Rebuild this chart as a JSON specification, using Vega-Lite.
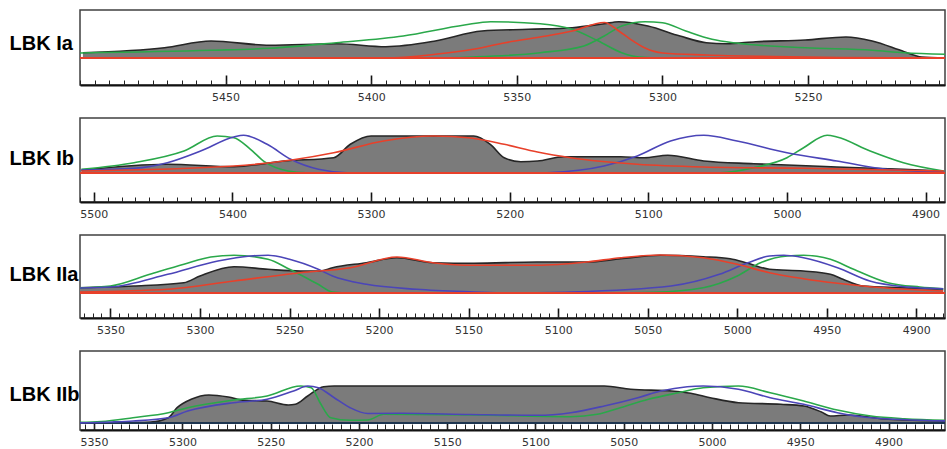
{
  "$schema": "https://vega.github.io/schema/vega-lite/v6.json",
  "padding": {"left": 8, "top": 9, "right": 3, "bottom": 0},
  "background": "white",
  "config": {
    "view": {"stroke": "#404040", "strokeWidth": 1.5},
    "axis": {"labelFont": "DejaVu Sans", "labelFontSize": 11, "labelColor": "#333333", "grid": false, "titleFont": "Liberation Sans", "titleFontSize": 20, "titleFontWeight": "bold", "titleColor": "#000000"},
    "line": {"interpolate": "monotone", "strokeWidth": 1.6},
    "area": {"interpolate": "monotone"}
  },
  "datasets": {
    "p1": [
      {"s": "sum", "x": 5499, "y": 5.3}, {"s": "sum", "x": 5471, "y": 10.3}, {"s": "sum", "x": 5455, "y": 17}, {"s": "sum", "x": 5435, "y": 12.7}, {"s": "sum", "x": 5412, "y": 14.3}, {"s": "sum", "x": 5395, "y": 11.3}, {"s": "sum", "x": 5378, "y": 17}, {"s": "sum", "x": 5362, "y": 27}, {"s": "sum", "x": 5346, "y": 28.7}, {"s": "sum", "x": 5331, "y": 30.3}, {"s": "sum", "x": 5320, "y": 34.3}, {"s": "sum", "x": 5315, "y": 36.3}, {"s": "sum", "x": 5305, "y": 32}, {"s": "sum", "x": 5294, "y": 22}, {"s": "sum", "x": 5285, "y": 15.3}, {"s": "sum", "x": 5278, "y": 14.3}, {"s": "sum", "x": 5268, "y": 16.3}, {"s": "sum", "x": 5251, "y": 18}, {"s": "sum", "x": 5237, "y": 21}, {"s": "sum", "x": 5228, "y": 17}, {"s": "sum", "x": 5217, "y": 6.3}, {"s": "sum", "x": 5211, "y": 1}, {"s": "sum", "x": 5203, "y": 0},
      {"s": "g1", "x": 5500, "y": 5}, {"s": "g1", "x": 5455, "y": 7.7}, {"s": "g1", "x": 5435, "y": 9.7}, {"s": "g1", "x": 5412, "y": 15.3}, {"s": "g1", "x": 5389, "y": 22}, {"s": "g1", "x": 5368, "y": 33}, {"s": "g1", "x": 5359, "y": 36.3}, {"s": "g1", "x": 5342, "y": 34.3}, {"s": "g1", "x": 5331, "y": 28.7}, {"s": "g1", "x": 5322, "y": 17}, {"s": "g1", "x": 5314, "y": 5.3}, {"s": "g1", "x": 5308, "y": 1}, {"s": "g1", "x": 5300, "y": 0}, {"s": "g1", "x": 5203, "y": 0},
      {"s": "g2", "x": 5500, "y": 0}, {"s": "g2", "x": 5380, "y": 0}, {"s": "g2", "x": 5365, "y": 1}, {"s": "g2", "x": 5342, "y": 5.3}, {"s": "g2", "x": 5327, "y": 12}, {"s": "g2", "x": 5320, "y": 22}, {"s": "g2", "x": 5314, "y": 32}, {"s": "g2", "x": 5306, "y": 36.3}, {"s": "g2", "x": 5300, "y": 35.3}, {"s": "g2", "x": 5292, "y": 27}, {"s": "g2", "x": 5283, "y": 18.7}, {"s": "g2", "x": 5274, "y": 14.7}, {"s": "g2", "x": 5251, "y": 10.3}, {"s": "g2", "x": 5228, "y": 7.7}, {"s": "g2", "x": 5217, "y": 5.3}, {"s": "g2", "x": 5203, "y": 3.7},
      {"s": "r", "x": 5500, "y": 0}, {"s": "r", "x": 5395, "y": 0}, {"s": "r", "x": 5378, "y": 3.7}, {"s": "r", "x": 5365, "y": 8.7}, {"s": "r", "x": 5354, "y": 15.3}, {"s": "r", "x": 5342, "y": 21}, {"s": "r", "x": 5331, "y": 27}, {"s": "r", "x": 5320, "y": 35.5}, {"s": "r", "x": 5315, "y": 27}, {"s": "r", "x": 5311, "y": 18.7}, {"s": "r", "x": 5306, "y": 10}, {"s": "r", "x": 5300, "y": 5}, {"s": "r", "x": 5285, "y": 3}, {"s": "r", "x": 5262, "y": 1.5}, {"s": "r", "x": 5239, "y": 0.5}, {"s": "r", "x": 5203, "y": 0}
    ],
    "p2": [
      {"s": "sum", "x": 5509, "y": 2.7}, {"s": "sum", "x": 5447, "y": 8.7}, {"s": "sum", "x": 5399, "y": 6.3}, {"s": "sum", "x": 5363, "y": 12}, {"s": "sum", "x": 5327, "y": 15.3}, {"s": "sum", "x": 5315, "y": 28.7}, {"s": "sum", "x": 5300, "y": 37}, {"s": "sum", "x": 5226, "y": 37}, {"s": "sum", "x": 5214, "y": 28.7}, {"s": "sum", "x": 5204, "y": 15.3}, {"s": "sum", "x": 5192, "y": 11.3}, {"s": "sum", "x": 5180, "y": 12}, {"s": "sum", "x": 5161, "y": 16.3}, {"s": "sum", "x": 5120, "y": 16.3}, {"s": "sum", "x": 5103, "y": 15.3}, {"s": "sum", "x": 5086, "y": 17.7}, {"s": "sum", "x": 5060, "y": 12}, {"s": "sum", "x": 5024, "y": 9.3}, {"s": "sum", "x": 4964, "y": 6}, {"s": "sum", "x": 4916, "y": 3.7}, {"s": "sum", "x": 4887, "y": 2},
      {"s": "g1", "x": 5509, "y": 3.7}, {"s": "g1", "x": 5471, "y": 10.3}, {"s": "g1", "x": 5435, "y": 22}, {"s": "g1", "x": 5411, "y": 37}, {"s": "g1", "x": 5399, "y": 35.3}, {"s": "g1", "x": 5387, "y": 23.7}, {"s": "g1", "x": 5377, "y": 11.3}, {"s": "g1", "x": 5360, "y": 2}, {"s": "g1", "x": 5345, "y": 0},
      {"s": "g2", "x": 5060, "y": 0}, {"s": "g2", "x": 5048, "y": 0.3}, {"s": "g2", "x": 5024, "y": 5.3}, {"s": "g2", "x": 5000, "y": 15.3}, {"s": "g2", "x": 4988, "y": 25.3}, {"s": "g2", "x": 4971, "y": 37.7}, {"s": "g2", "x": 4964, "y": 36}, {"s": "g2", "x": 4940, "y": 22}, {"s": "g2", "x": 4916, "y": 10.3}, {"s": "g2", "x": 4887, "y": 2},
      {"s": "b1", "x": 5509, "y": 3}, {"s": "b1", "x": 5471, "y": 4.7}, {"s": "b1", "x": 5447, "y": 10.3}, {"s": "b1", "x": 5423, "y": 22}, {"s": "b1", "x": 5399, "y": 36}, {"s": "b1", "x": 5392, "y": 37.7}, {"s": "b1", "x": 5375, "y": 28.7}, {"s": "b1", "x": 5358, "y": 13.7}, {"s": "b1", "x": 5338, "y": 3.7}, {"s": "b1", "x": 5315, "y": 0}, {"s": "b1", "x": 5300, "y": 0},
      {"s": "b2", "x": 5180, "y": 0}, {"s": "b2", "x": 5173, "y": 0.3}, {"s": "b2", "x": 5132, "y": 7}, {"s": "b2", "x": 5108, "y": 17}, {"s": "b2", "x": 5084, "y": 32}, {"s": "b2", "x": 5060, "y": 37.7}, {"s": "b2", "x": 5036, "y": 32}, {"s": "b2", "x": 5000, "y": 20.3}, {"s": "b2", "x": 4964, "y": 12}, {"s": "b2", "x": 4928, "y": 3.7}, {"s": "b2", "x": 4887, "y": 1},
      {"s": "r", "x": 5509, "y": 2}, {"s": "r", "x": 5399, "y": 7}, {"s": "r", "x": 5327, "y": 20.3}, {"s": "r", "x": 5291, "y": 32}, {"s": "r", "x": 5255, "y": 37}, {"s": "r", "x": 5228, "y": 35}, {"s": "r", "x": 5204, "y": 28.7}, {"s": "r", "x": 5180, "y": 21}, {"s": "r", "x": 5156, "y": 15.3}, {"s": "r", "x": 5108, "y": 8.7}, {"s": "r", "x": 5060, "y": 6}, {"s": "r", "x": 4988, "y": 4.7}, {"s": "r", "x": 4887, "y": 2}
    ],
    "p3": [
      {"s": "sum", "x": 5367, "y": 5.3}, {"s": "sum", "x": 5337, "y": 7}, {"s": "sum", "x": 5309, "y": 10.3}, {"s": "sum", "x": 5300, "y": 17}, {"s": "sum", "x": 5281, "y": 26.3}, {"s": "sum", "x": 5262, "y": 23.7}, {"s": "sum", "x": 5244, "y": 22}, {"s": "sum", "x": 5233, "y": 22}, {"s": "sum", "x": 5226, "y": 25.3}, {"s": "sum", "x": 5207, "y": 30.3}, {"s": "sum", "x": 5190, "y": 35.3}, {"s": "sum", "x": 5170, "y": 30.3}, {"s": "sum", "x": 5147, "y": 29.7}, {"s": "sum", "x": 5112, "y": 31}, {"s": "sum", "x": 5084, "y": 31}, {"s": "sum", "x": 5065, "y": 34.3}, {"s": "sum", "x": 5043, "y": 37.7}, {"s": "sum", "x": 5019, "y": 36.3}, {"s": "sum", "x": 5004, "y": 34.3}, {"s": "sum", "x": 4994, "y": 29.7}, {"s": "sum", "x": 4982, "y": 23.7}, {"s": "sum", "x": 4963, "y": 22}, {"s": "sum", "x": 4948, "y": 18.7}, {"s": "sum", "x": 4941, "y": 13.7}, {"s": "sum", "x": 4930, "y": 7}, {"s": "sum", "x": 4907, "y": 5.3}, {"s": "sum", "x": 4885, "y": 3.7},
      {"s": "g1", "x": 5367, "y": 5.3}, {"s": "g1", "x": 5350, "y": 7}, {"s": "g1", "x": 5328, "y": 18.7}, {"s": "g1", "x": 5309, "y": 28.7}, {"s": "g1", "x": 5294, "y": 36}, {"s": "g1", "x": 5281, "y": 37.7}, {"s": "g1", "x": 5262, "y": 33.7}, {"s": "g1", "x": 5250, "y": 23.7}, {"s": "g1", "x": 5234, "y": 8.7}, {"s": "g1", "x": 5226, "y": 1}, {"s": "g1", "x": 5216, "y": 0}, {"s": "g1", "x": 5150, "y": 0},
      {"s": "g2", "x": 5080, "y": 0}, {"s": "g2", "x": 5047, "y": 0.7}, {"s": "g2", "x": 5019, "y": 5.3}, {"s": "g2", "x": 5000, "y": 17}, {"s": "g2", "x": 4987, "y": 30.3}, {"s": "g2", "x": 4972, "y": 37}, {"s": "g2", "x": 4963, "y": 37.7}, {"s": "g2", "x": 4948, "y": 33.7}, {"s": "g2", "x": 4935, "y": 23.7}, {"s": "g2", "x": 4916, "y": 10.3}, {"s": "g2", "x": 4898, "y": 6}, {"s": "g2", "x": 4885, "y": 4.3},
      {"s": "b1", "x": 5367, "y": 5}, {"s": "b1", "x": 5350, "y": 6}, {"s": "b1", "x": 5318, "y": 18.7}, {"s": "b1", "x": 5290, "y": 32}, {"s": "b1", "x": 5272, "y": 37}, {"s": "b1", "x": 5262, "y": 37.7}, {"s": "b1", "x": 5250, "y": 33.7}, {"s": "b1", "x": 5234, "y": 23.7}, {"s": "b1", "x": 5226, "y": 17}, {"s": "b1", "x": 5207, "y": 8.7}, {"s": "b1", "x": 5179, "y": 3.7}, {"s": "b1", "x": 5147, "y": 1}, {"s": "b1", "x": 5130, "y": 0},
      {"s": "b2", "x": 5130, "y": 0}, {"s": "b2", "x": 5093, "y": 1}, {"s": "b2", "x": 5037, "y": 7}, {"s": "b2", "x": 5010, "y": 18.7}, {"s": "b2", "x": 4994, "y": 30.3}, {"s": "b2", "x": 4982, "y": 37}, {"s": "b2", "x": 4974, "y": 37.7}, {"s": "b2", "x": 4963, "y": 35.3}, {"s": "b2", "x": 4944, "y": 25.3}, {"s": "b2", "x": 4926, "y": 12}, {"s": "b2", "x": 4907, "y": 6.3}, {"s": "b2", "x": 4885, "y": 4.3},
      {"s": "r", "x": 5367, "y": 1}, {"s": "r", "x": 5318, "y": 3.7}, {"s": "r", "x": 5281, "y": 12}, {"s": "r", "x": 5244, "y": 20.3}, {"s": "r", "x": 5216, "y": 25.3}, {"s": "r", "x": 5190, "y": 36}, {"s": "r", "x": 5170, "y": 30.3}, {"s": "r", "x": 5147, "y": 27.7}, {"s": "r", "x": 5112, "y": 27.7}, {"s": "r", "x": 5084, "y": 31}, {"s": "r", "x": 5065, "y": 35.3}, {"s": "r", "x": 5043, "y": 38}, {"s": "r", "x": 5019, "y": 35.3}, {"s": "r", "x": 5000, "y": 28.7}, {"s": "r", "x": 4982, "y": 20.3}, {"s": "r", "x": 4963, "y": 14.3}, {"s": "r", "x": 4944, "y": 9.7}, {"s": "r", "x": 4926, "y": 6.3}, {"s": "r", "x": 4885, "y": 2}
    ],
    "p4": [
      {"s": "sum", "x": 5360, "y": 0}, {"s": "sum", "x": 5318, "y": 1}, {"s": "sum", "x": 5308, "y": 5.3}, {"s": "sum", "x": 5303, "y": 15.3}, {"s": "sum", "x": 5295, "y": 23.7}, {"s": "sum", "x": 5285, "y": 28}, {"s": "sum", "x": 5274, "y": 26}, {"s": "sum", "x": 5265, "y": 22.7}, {"s": "sum", "x": 5252, "y": 22}, {"s": "sum", "x": 5240, "y": 18}, {"s": "sum", "x": 5236, "y": 18.7}, {"s": "sum", "x": 5229, "y": 27}, {"s": "sum", "x": 5220, "y": 36.3}, {"s": "sum", "x": 5214, "y": 37}, {"s": "sum", "x": 5135, "y": 37}, {"s": "sum", "x": 5061, "y": 37}, {"s": "sum", "x": 5046, "y": 33.7}, {"s": "sum", "x": 5023, "y": 32}, {"s": "sum", "x": 5012, "y": 29.7}, {"s": "sum", "x": 5001, "y": 25.3}, {"s": "sum", "x": 4985, "y": 20.3}, {"s": "sum", "x": 4961, "y": 18.7}, {"s": "sum", "x": 4948, "y": 17}, {"s": "sum", "x": 4938, "y": 11}, {"s": "sum", "x": 4933, "y": 7}, {"s": "sum", "x": 4923, "y": 8}, {"s": "sum", "x": 4900, "y": 3.7}, {"s": "sum", "x": 4866, "y": 2},
      {"s": "g1", "x": 5360, "y": 0.5}, {"s": "g1", "x": 5346, "y": 1.5}, {"s": "g1", "x": 5328, "y": 5.3}, {"s": "g1", "x": 5308, "y": 10.3}, {"s": "g1", "x": 5297, "y": 15.3}, {"s": "g1", "x": 5271, "y": 23}, {"s": "g1", "x": 5252, "y": 27}, {"s": "g1", "x": 5233, "y": 37}, {"s": "g1", "x": 5227, "y": 35.3}, {"s": "g1", "x": 5222, "y": 20.3}, {"s": "g1", "x": 5216, "y": 5.3}, {"s": "g1", "x": 5205, "y": 2.7}, {"s": "g1", "x": 5195, "y": 3}, {"s": "g1", "x": 5186, "y": 8.7}, {"s": "g1", "x": 5135, "y": 8}, {"s": "g1", "x": 5080, "y": 6.3}, {"s": "g1", "x": 5065, "y": 8.7}, {"s": "g1", "x": 5052, "y": 15.3}, {"s": "g1", "x": 5036, "y": 23.7}, {"s": "g1", "x": 5019, "y": 30.3}, {"s": "g1", "x": 5005, "y": 35.3}, {"s": "g1", "x": 4985, "y": 37}, {"s": "g1", "x": 4967, "y": 30.3}, {"s": "g1", "x": 4948, "y": 22}, {"s": "g1", "x": 4929, "y": 13}, {"s": "g1", "x": 4910, "y": 7}, {"s": "g1", "x": 4891, "y": 4.3}, {"s": "g1", "x": 4866, "y": 2.7},
      {"s": "b1", "x": 5360, "y": 0}, {"s": "b1", "x": 5340, "y": 1}, {"s": "b1", "x": 5328, "y": 2}, {"s": "b1", "x": 5308, "y": 5.3}, {"s": "b1", "x": 5297, "y": 12}, {"s": "b1", "x": 5271, "y": 20.3}, {"s": "b1", "x": 5252, "y": 23.7}, {"s": "b1", "x": 5237, "y": 32}, {"s": "b1", "x": 5229, "y": 37}, {"s": "b1", "x": 5223, "y": 35.3}, {"s": "b1", "x": 5214, "y": 25.3}, {"s": "b1", "x": 5205, "y": 15.3}, {"s": "b1", "x": 5195, "y": 9.5}, {"s": "b1", "x": 5176, "y": 9.7}, {"s": "b1", "x": 5137, "y": 8.5}, {"s": "b1", "x": 5099, "y": 7.7}, {"s": "b1", "x": 5080, "y": 10.3}, {"s": "b1", "x": 5061, "y": 17}, {"s": "b1", "x": 5042, "y": 25.3}, {"s": "b1", "x": 5029, "y": 32}, {"s": "b1", "x": 5014, "y": 36.3}, {"s": "b1", "x": 5005, "y": 37}, {"s": "b1", "x": 4985, "y": 33.7}, {"s": "b1", "x": 4967, "y": 25.3}, {"s": "b1", "x": 4948, "y": 18.7}, {"s": "b1", "x": 4929, "y": 10.3}, {"s": "b1", "x": 4910, "y": 5.3}, {"s": "b1", "x": 4866, "y": 2}
    ]
  },
  "vconcat": [
    {
      "width": 865, "height": 75,
      "data": {"name": "p1"},
      "resolve": {"axis": {"x": "independent"}},
      "layer": [
        {"transform": [{"filter": "datum.s == 'sum'"}], "mark": {"type": "area", "color": "#7b7b7b", "clip": true},
         "encoding": {
           "x": {"field": "x", "type": "quantitative", "scale": {"domain": [5500, 5203], "nice": false, "zero": false},
                 "axis": {"orient": "bottom", "title": "LBK Ia", "titleX": -71, "titleY": -42, "titleAngle": 0, "titleAlign": "left", "titleBaseline": "middle", "format": "d", "values": [5450, 5400, 5350, 5300, 5250], "tickSize": -10, "tickWidth": 1.6, "tickColor": "#111", "labelPadding": 16, "domainColor": "#111", "domainWidth": 2, "labelOverlap": false}},
           "y": {"field": "y", "type": "quantitative", "scale": {"domain": [-27, 48], "nice": false, "zero": false},
                 "axis": {"title": null, "domain": false, "ticks": false, "labels": false}}
         }},
        {"transform": [{"filter": "datum.s == 'sum'"}], "mark": {"type": "line", "color": "#262626", "clip": true},
         "encoding": {
           "x": {"field": "x", "type": "quantitative", "axis": {"orient": "bottom", "title": null, "tickCount": 60, "labels": false, "domain": false, "tickSize": -5, "tickWidth": 1, "tickColor": "#222"}},
           "y": {"field": "y", "type": "quantitative", "axis": null}
         }},
        {"transform": [{"filter": "datum.s != 'sum'"}], "mark": {"type": "line", "clip": true},
         "encoding": {
           "x": {"field": "x", "type": "quantitative", "axis": null},
           "y": {"field": "y", "type": "quantitative", "axis": null},
           "detail": {"field": "s"},
           "color": {"field": "s", "type": "nominal", "legend": null, "scale": {"domain": ["g1", "g2", "b1", "b2", "r"], "range": ["#2aa84a", "#2aa84a", "#4b45b8", "#4b45b8", "#e8402a"]}}
         }},
        {"mark": {"type": "rule", "color": "#e8402a", "strokeWidth": 2.2}, "encoding": {"y": {"datum": 0}}}
      ]
    },
    {
      "width": 865, "height": 84,
      "data": {"name": "p2"},
      "resolve": {"axis": {"x": "independent"}},
      "layer": [
        {"transform": [{"filter": "datum.s == 'sum'"}], "mark": {"type": "area", "color": "#7b7b7b", "clip": true},
         "encoding": {
           "x": {"field": "x", "type": "quantitative", "scale": {"domain": [5510, 4886], "nice": false, "zero": false},
                 "axis": {"orient": "bottom", "title": "LBK Ib", "titleX": -71, "titleY": -44, "titleAngle": 0, "titleAlign": "left", "titleBaseline": "middle", "format": "d", "values": [5500, 5400, 5300, 5200, 5100, 5000, 4900], "tickSize": -10, "tickWidth": 1.6, "tickColor": "#111", "labelPadding": 16, "domainColor": "#111", "domainWidth": 2, "labelOverlap": false}},
           "y": {"field": "y", "type": "quantitative", "scale": {"domain": [-29, 55], "nice": false, "zero": false},
                 "axis": {"title": null, "domain": false, "ticks": false, "labels": false}}
         }},
        {"transform": [{"filter": "datum.s == 'sum'"}], "mark": {"type": "line", "color": "#262626", "clip": true},
         "encoding": {
           "x": {"field": "x", "type": "quantitative", "axis": {"orient": "bottom", "title": null, "tickCount": 62, "labels": false, "domain": false, "tickSize": -5, "tickWidth": 1, "tickColor": "#222"}},
           "y": {"field": "y", "type": "quantitative", "axis": null}
         }},
        {"transform": [{"filter": "datum.s != 'sum'"}], "mark": {"type": "line", "clip": true},
         "encoding": {
           "x": {"field": "x", "type": "quantitative", "axis": null},
           "y": {"field": "y", "type": "quantitative", "axis": null},
           "detail": {"field": "s"},
           "color": {"field": "s", "type": "nominal", "legend": null, "scale": {"domain": ["g1", "g2", "b1", "b2", "r"], "range": ["#2aa84a", "#2aa84a", "#4b45b8", "#4b45b8", "#e8402a"]}}
         }},
        {"mark": {"type": "rule", "color": "#e8402a", "strokeWidth": 2.2}, "encoding": {"y": {"datum": 0}}}
      ]
    },
    {
      "width": 865, "height": 83,
      "data": {"name": "p3"},
      "resolve": {"axis": {"x": "independent"}},
      "layer": [
        {"transform": [{"filter": "datum.s == 'sum'"}], "mark": {"type": "area", "color": "#7b7b7b", "clip": true},
         "encoding": {
           "x": {"field": "x", "type": "quantitative", "scale": {"domain": [5367, 4884], "nice": false, "zero": false},
                 "axis": {"orient": "bottom", "title": "LBK IIa", "titleX": -71, "titleY": -44, "titleAngle": 0, "titleAlign": "left", "titleBaseline": "middle", "format": "d", "values": [5350, 5300, 5250, 5200, 5150, 5100, 5050, 5000, 4950, 4900], "tickSize": -10, "tickWidth": 1.6, "tickColor": "#111", "labelPadding": 16, "domainColor": "#111", "domainWidth": 2, "labelOverlap": false}},
           "y": {"field": "y", "type": "quantitative", "scale": {"domain": [-25, 58], "nice": false, "zero": false},
                 "axis": {"title": null, "domain": false, "ticks": false, "labels": false}}
         }},
        {"transform": [{"filter": "datum.s == 'sum'"}], "mark": {"type": "line", "color": "#262626", "clip": true},
         "encoding": {
           "x": {"field": "x", "type": "quantitative", "axis": {"orient": "bottom", "title": null, "tickCount": 97, "labels": false, "domain": false, "tickSize": -5, "tickWidth": 1, "tickColor": "#222"}},
           "y": {"field": "y", "type": "quantitative", "axis": null}
         }},
        {"transform": [{"filter": "datum.s != 'sum'"}], "mark": {"type": "line", "clip": true},
         "encoding": {
           "x": {"field": "x", "type": "quantitative", "axis": null},
           "y": {"field": "y", "type": "quantitative", "axis": null},
           "detail": {"field": "s"},
           "color": {"field": "s", "type": "nominal", "legend": null, "scale": {"domain": ["g1", "g2", "b1", "b2", "r"], "range": ["#2aa84a", "#2aa84a", "#4b45b8", "#4b45b8", "#e8402a"]}}
         }},
        {"mark": {"type": "rule", "color": "#e8402a", "strokeWidth": 2.2}, "encoding": {"y": {"datum": 0}}}
      ]
    },
    {
      "width": 865, "height": 79,
      "data": {"name": "p4"},
      "resolve": {"axis": {"x": "independent"}},
      "layer": [
        {"transform": [{"filter": "datum.s == 'sum'"}], "mark": {"type": "area", "color": "#7b7b7b", "clip": true},
         "encoding": {
           "x": {"field": "x", "type": "quantitative", "scale": {"domain": [5358, 4868], "nice": false, "zero": false},
                 "axis": {"orient": "bottom", "title": "LBK IIb", "titleX": -71, "titleY": -36, "titleAngle": 0, "titleAlign": "left", "titleBaseline": "middle", "format": "d", "values": [5350, 5300, 5250, 5200, 5150, 5100, 5050, 5000, 4950, 4900], "tickSize": -8, "tickWidth": 1.6, "tickColor": "#111", "labelPadding": 14, "domainColor": "#111", "domainWidth": 2, "labelOverlap": false}},
           "y": {"field": "y", "type": "quantitative", "scale": {"domain": [-7, 72], "nice": false, "zero": false},
                 "axis": {"title": null, "domain": false, "ticks": false, "labels": false}}
         }},
        {"transform": [{"filter": "datum.s == 'sum'"}], "mark": {"type": "line", "color": "#262626", "clip": true},
         "encoding": {
           "x": {"field": "x", "type": "quantitative", "axis": {"orient": "bottom", "title": null, "tickCount": 98, "labels": false, "domain": false, "tickSize": -6, "tickWidth": 1, "tickColor": "#222"}},
           "y": {"field": "y", "type": "quantitative", "axis": null}
         }},
        {"mark": {"type": "rule", "color": "#1d3550", "strokeWidth": 2.2}, "encoding": {"y": {"datum": 0}}},
        {"transform": [{"filter": "datum.s != 'sum'"}], "mark": {"type": "line", "clip": true},
         "encoding": {
           "x": {"field": "x", "type": "quantitative", "axis": null},
           "y": {"field": "y", "type": "quantitative", "axis": null},
           "detail": {"field": "s"},
           "color": {"field": "s", "type": "nominal", "legend": null, "scale": {"domain": ["g1", "g2", "b1", "b2", "r"], "range": ["#2aa84a", "#2aa84a", "#4b45b8", "#4b45b8", "#e8402a"]}}
         }}
      ]
    }
  ],
  "bounds": "flush",
  "spacing": 33
}
